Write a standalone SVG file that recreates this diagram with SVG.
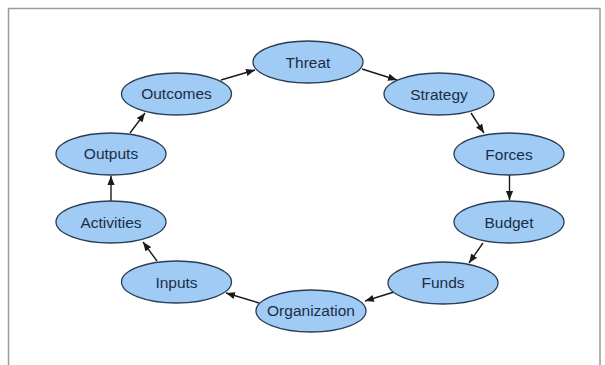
<svg xmlns="http://www.w3.org/2000/svg" width="605" height="365" viewBox="0 0 605 365">
<style>
.n ellipse{fill:#9fcbf5;stroke:#2b3d55;stroke-width:1.3}
.n text{font-family:"Liberation Sans",Arial,sans-serif;font-size:15.5px;fill:#1c2d45;text-anchor:middle;dominant-baseline:central}
.e line{stroke:#1a1a1a;stroke-width:1.4;marker-end:url(#ah)}
</style>
<defs>
<marker id="ah" viewBox="0 0 10 10" refX="10" refY="5" markerWidth="9" markerHeight="9" markerUnits="userSpaceOnUse" orient="auto">
<path d="M0,1 L10,5 L0,9 Z" fill="#1a1a1a"/>
</marker>
</defs>
<rect x="0" y="0" width="605" height="365" fill="#fff"/>
<path d="M8.5,365 V8.5 H600 V365" fill="none" stroke="#9a9a9a" stroke-width="1.5"/>
<g class="e">
<line x1="362" y1="69" x2="397" y2="80"/>
<line x1="471" y1="113" x2="484" y2="133"/>
<line x1="509.5" y1="175" x2="509.5" y2="200"/>
<line x1="483" y1="243" x2="469" y2="263"/>
<line x1="394" y1="292" x2="365" y2="301"/>
<line x1="259" y1="303" x2="226" y2="293"/>
<line x1="157" y1="261" x2="143" y2="242"/>
<line x1="111" y1="201" x2="111" y2="176"/>
<line x1="130" y1="133" x2="145" y2="113"/>
<line x1="221" y1="80" x2="255" y2="70"/>
</g>
<g id="threat" class="n"><ellipse cx="308" cy="62" rx="55" ry="21"/><text x="308" y="62">Threat</text></g>
<g id="strategy" class="n"><ellipse cx="439" cy="94" rx="55" ry="21"/><text x="439" y="94">Strategy</text></g>
<g id="forces" class="n"><ellipse cx="509" cy="154" rx="55" ry="21"/><text x="509" y="154">Forces</text></g>
<g id="budget" class="n"><ellipse cx="509" cy="222" rx="55" ry="21"/><text x="509" y="222">Budget</text></g>
<g id="funds" class="n"><ellipse cx="443" cy="283" rx="55" ry="21"/><text x="443" y="282">Funds</text></g>
<g id="organization" class="n"><ellipse cx="311" cy="311" rx="55" ry="21"/><text x="311" y="310">Organization</text></g>
<g id="inputs" class="n"><ellipse cx="176.5" cy="282" rx="55" ry="21"/><text x="176.5" y="282">Inputs</text></g>
<g id="activities" class="n"><ellipse cx="111" cy="222" rx="55" ry="21"/><text x="111" y="222">Activities</text></g>
<g id="outputs" class="n"><ellipse cx="111" cy="154" rx="55" ry="21"/><text x="111" y="153">Outputs</text></g>
<g id="outcomes" class="n"><ellipse cx="176.5" cy="94" rx="55" ry="21"/><text x="176.5" y="93">Outcomes</text></g>
</svg>
